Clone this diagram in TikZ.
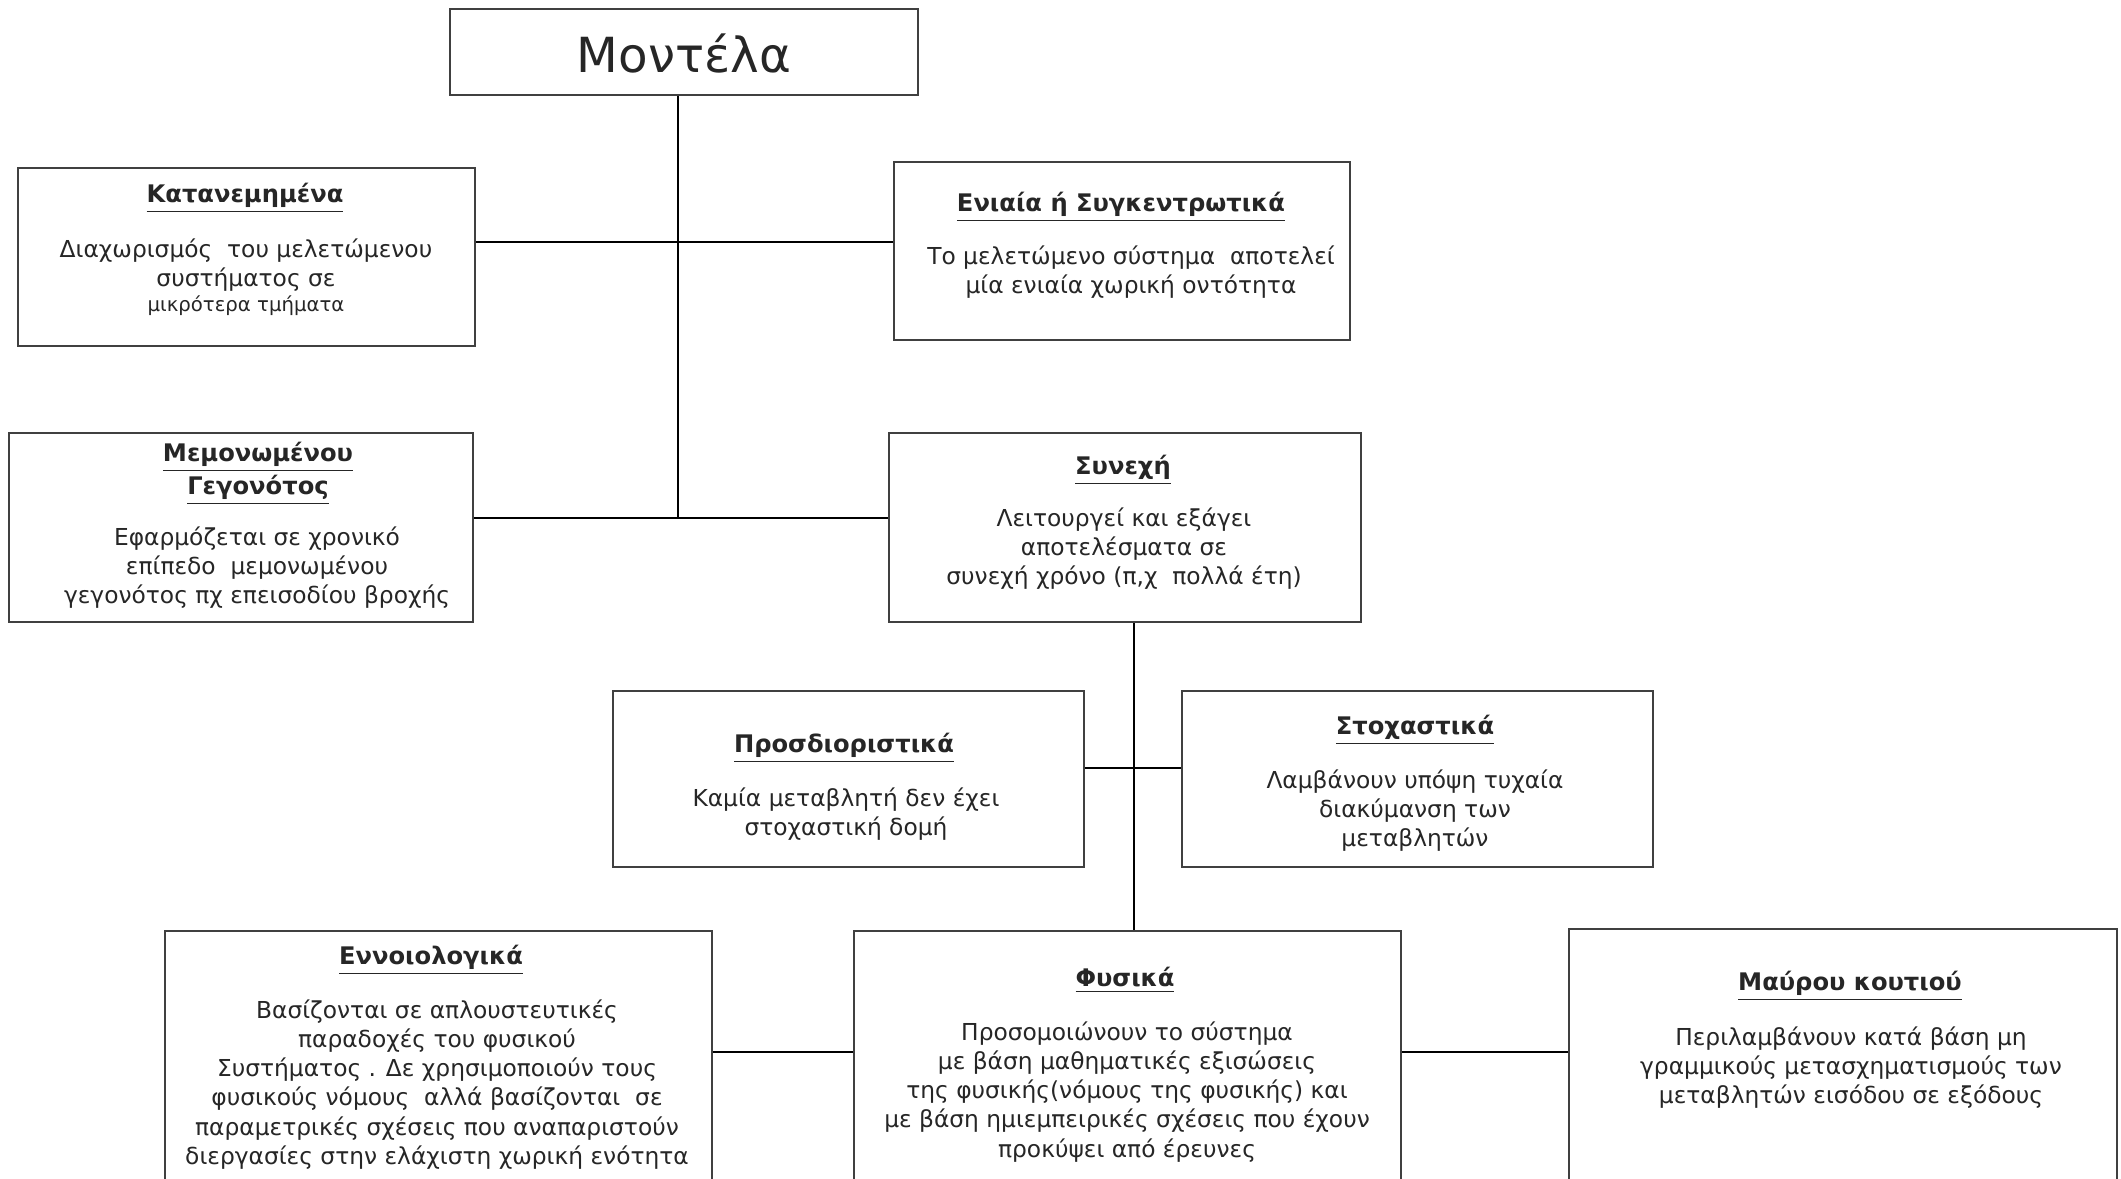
\documentclass[tikz,border=0pt]{standalone}
\usepackage{fontspec}
\setmainfont{DejaVu Sans}
\usetikzlibrary{fit}
\begin{document}
\begin{tikzpicture}[x=0.0125cm,y=-0.0125cm,
  box/.style={draw=black!75, line width=0.9pt, inner sep=0pt},
  link/.style={draw=black, line width=0.8pt},
  head/.style={font=\fontsize{8.6}{10.4}\selectfont\bfseries, text=black!85, inner sep=0pt, anchor=north, align=center},
  body/.style={font=\fontsize{8.3}{10.4}\selectfont, text=black!85, inner sep=0pt, anchor=north, align=center},
  small/.style={font=\fontsize{7}{8.4}\selectfont, text=black!85, inner sep=0pt, anchor=north, align=center}]
\useasboundingbox (0,0) rectangle (2121,1179);
\clip (0,0) rectangle (2121,1179);

% boxes
\node[box, fit={(450,9) (918,95)}] (top) {};
\node[box, fit={(18,168) (475,346)}] (kat) {};
\node[box, fit={(894,162) (1350,340)}] (eni) {};
\node[box, fit={(9,433) (473,622)}] (mem) {};
\node[box, fit={(889,433) (1361,622)}] (syn) {};
\node[box, fit={(613,691) (1084,867)}] (pro) {};
\node[box, fit={(1182,691) (1653,867)}] (sto) {};
\node[box, fit={(165,931) (712,1220)}] (enn) {};
\node[box, fit={(854,931) (1401,1220)}] (fys) {};
\node[box, fit={(1569,929) (2117,1220)}] (mav) {};

% junction points
\coordinate (j1) at (678,242);
\coordinate (j2) at (678,518);
\coordinate (j3) at (1134,768);
\coordinate (j4) at (0,1052);

% connectors
\draw[link] (top.south -| j1) -- (j2);
\draw[link] (kat.east |- j1) -- (eni.west |- j1);
\draw[link] (mem.east |- j2) -- (syn.west |- j2);
\draw[link] (syn.south -| j3) -- (fys.north -| j3);
\draw[link] (pro.east |- j3) -- (sto.west |- j3);
\draw[link] (enn.east |- j4) -- (fys.west |- j4);
\draw[link] (fys.east |- j4) -- (mav.west |- j4);

% texts
\node[font=\fontsize{17.2}{21}\selectfont, text=black!85, inner sep=0pt, anchor=base] (top-t) at (684,72) {Μοντέλα};

\node[head] (kat-h) at (245,183) {\underline{Κατανεμημένα}};
\node[body] (kat-b) at (246,238) {Διαχωρισμός \ του μελετώμενου\\συστήματος σε};
\node[small] (kat-s) at (246,295) {μικρότερα τμήματα};

\node[head] (eni-h) at (1121,192) {\underline{Ενιαία ή Συγκεντρωτικά}};
\node[body] (eni-b) at (1131,245) {Το μελετώμενο σύστημα \ αποτελεί\\μία ενιαία χωρική οντότητα};

\node[head] (mem-h) at (258,442) {\underline{Μεμονωμένου}\\\underline{Γεγονότος}};
\node[body] (mem-b) at (257,526) {Εφαρμόζεται σε χρονικό\\επίπεδο \ μεμονωμένου\\γεγονότος πχ επεισοδίου βροχής};

\node[head] (syn-h) at (1123,455) {\underline{Συνεχή}};
\node[body] (syn-b) at (1124,507) {Λειτουργεί και εξάγει\\αποτελέσματα σε\\συνεχή χρόνο (π,χ \ πολλά έτη)};

\node[head] (pro-h) at (844,733) {\underline{Προσδιοριστικά}};
\node[body] (pro-b) at (846,787) {Καμία μεταβλητή δεν έχει\\στοχαστική δομή};

\node[head] (sto-h) at (1415,715) {\underline{Στοχαστικά}};
\node[body] (sto-b) at (1415,769) {Λαμβάνουν υπόψη τυχαία\\διακύμανση των\\μεταβλητών};

\node[head] (enn-h) at (431,945) {\underline{Εννοιολογικά}};
\node[body] (enn-b) at (437,999) {Βασίζονται σε απλουστευτικές\\παραδοχές του φυσικού\\Συστήματος . Δε χρησιμοποιούν τους\\φυσικούς νόμους \ αλλά βασίζονται \ σε\\παραμετρικές σχέσεις που αναπαριστούν\\διεργασίες στην ελάχιστη χωρική ενότητα};

\node[head] (fys-h) at (1125,967) {\underline{Φυσικά}};
\node[body] (fys-b) at (1127,1021) {Προσομοιώνουν το σύστημα\\με βάση μαθηματικές εξισώσεις\\της φυσικής(νόμους της φυσικής) και\\με βάση ημιεμπειρικές σχέσεις που έχουν\\προκύψει από έρευνες};

\node[head] (mav-h) at (1850,971) {\underline{Μαύρου κουτιού}};
\node[body] (mav-b) at (1851,1026) {Περιλαμβάνουν κατά βάση μη\\γραμμικούς μετασχηματισμούς των\\μεταβλητών εισόδου σε εξόδους};
\end{tikzpicture}
\end{document}
